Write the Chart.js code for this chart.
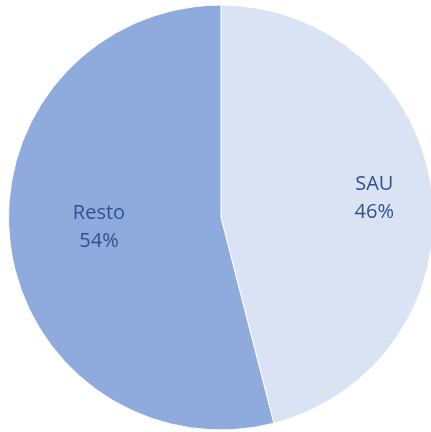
<!DOCTYPE html>
<html>
<head>
<meta charset="utf-8">
<script src="https://cdn.jsdelivr.net/npm/chart.js@4/dist/chart.umd.min.js"></script>
<style>
  html, body { margin: 0; padding: 0; background: #fff; overflow: hidden; }
  #wrap { width: 445px; height: 432px; }
</style>
</head>
<body>
<div id="wrap"><canvas id="pie" width="445" height="432"></canvas></div>
<script>
// datos
const labels = ["SAU", "Resto"];
const valores = [46, 54];
const colores = ["#DAE3F3", "#8FAADC"];

// distancia de cada etiqueta al centro (fracción del radio)
const labelRadio = [0.727, 0.576];
const labelAngOff = [0, 0.047];

const etiquetas = {
  id: "etiquetas",
  afterDatasetsDraw(chart) {
    const ctx = chart.ctx;
    const meta = chart.getDatasetMeta(0);
    const total = valores.reduce((a, b) => a + b, 0);
    ctx.save();
    ctx.fillStyle = "#2F528F";
    ctx.font = "20px 'Open Sans', sans-serif";
    ctx.textAlign = "center";
    ctx.textBaseline = "middle";
    meta.data.forEach((arc, i) => {
      const mid = (arc.startAngle + arc.endAngle) / 2 + labelAngOff[i];
      const r = arc.outerRadius * labelRadio[i];
      const x = arc.x + Math.cos(mid) * r;
      const y = arc.y + Math.sin(mid) * r;
      const pct = Math.round((valores[i] / total) * 100) + "%";
      ctx.fillText(labels[i], x, y - 14);
      ctx.fillText(pct, x, y + 14);
    });
    ctx.restore();
  },
};

new Chart(document.getElementById("pie"), {
  type: "pie",
  data: {
    labels,
    datasets: [
      {
        data: valores,
        backgroundColor: colores,
        borderColor: "#ffffff",
        borderWidth: 1,
      },
    ],
  },
  options: {
    responsive: false,
    animation: false,
    layout: { padding: { left: 8, right: 11, top: 4, bottom: 1 } },
    plugins: {
      legend: { display: false },
      tooltip: { enabled: false },
    },
  },
  plugins: [etiquetas],
});
</script>
</body>
</html>
